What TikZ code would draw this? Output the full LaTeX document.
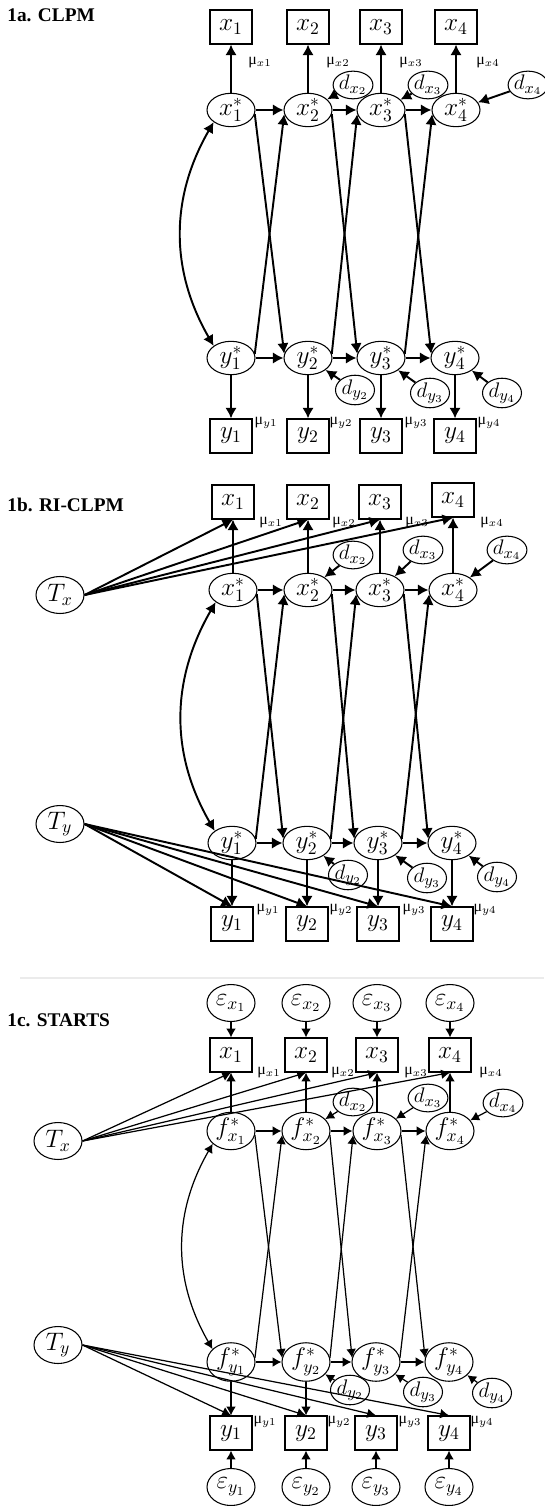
\documentclass[tikz,border=0pt]{standalone}
\usepackage{fontspec}
\setmainfont{Liberation Serif}
\usetikzlibrary{arrows.meta,shapes.geometric}

\begin{document}
\begin{tikzpicture}[x = 0.02cm, y = 0.02cm,
        obs/.style = {draw, line width = 0.7pt, minimum width = 0.84cm, minimum height = 0.68cm, inner sep = 0pt, font = \fontsize{14}{16}\selectfont},
        lat/.style = {draw, ellipse, line width = 0.6pt, minimum width = 0.96cm, minimum height = 0.6cm, inner sep = 0pt, font = \fontsize{14}{16}\selectfont},
        res/.style = {draw, ellipse, line width = 0.6pt, minimum width = 0.78cm, minimum height = 0.54cm, inner sep = 0pt, font = \fontsize{12.5}{14}\selectfont},
        trait/.style = {draw, ellipse, line width = 0.6pt, minimum width = 0.96cm, minimum height = 0.74cm, inner sep = 0pt, font = \fontsize{14}{16}\selectfont},
        meanlbl/.style = {font = \small, inner sep = 0pt},
        paneltitle/.style = {anchor = west, inner sep = 0pt, font = \bfseries\fontsize{11}{13}\selectfont},
        arr/.style = {line width = 1.1pt, -{Latex[length = 6pt, width = 6.5pt]}},
        arrc/.style = {line width = 0.7pt, -{Latex[length = 5pt, width = 5.5pt]}},
        cov/.style = {line width = 1.1pt, {Latex[length = 6pt, width = 6.5pt]}-{Latex[length = 6pt, width = 6.5pt]}},
        covc/.style = {line width = 0.7pt, {Latex[length = 5pt, width = 5.5pt]}-{Latex[length = 5pt, width = 5.5pt]}}
    ]
        \useasboundingbox (0, 0) rectangle (544, -1506);

        % 1a
        \node[paneltitle] (a-title) at (7, -15) {1a. CLPM};
        \node[obs] (a-x1) at (231, -27) {$x_1$};
        \node[obs] (a-x2) at (308, -27) {$x_2$};
        \node[obs] (a-x3) at (381, -27) {$x_3$};
        \node[obs] (a-x4) at (456, -27) {$x_4$};
        \node[meanlbl] (a-mx1) at (260, -63) {μ$_{x1}$};
        \node[meanlbl] (a-mx2) at (338, -63) {μ$_{x2}$};
        \node[meanlbl] (a-mx3) at (411, -63) {μ$_{x3}$};
        \node[meanlbl] (a-mx4) at (488, -63) {μ$_{x4}$};
        \node[lat] (a-xs1) at (231, -110) {$x_1^*$};
        \node[lat] (a-xs2) at (308, -110) {$x_2^*$};
        \node[lat] (a-xs3) at (381, -110) {$x_3^*$};
        \node[lat] (a-xs4) at (456, -110) {$x_4^*$};
        \node[res] (a-dx2) at (353, -85) {$d_{x_2}$};
        \node[res] (a-dx3) at (428, -85) {$d_{x_3}$};
        \node[res] (a-dx4) at (528, -85) {$d_{x_4}$};
        \node[lat] (a-ys1) at (231, -358) {$y_1^*$};
        \node[lat] (a-ys2) at (308, -358) {$y_2^*$};
        \node[lat] (a-ys3) at (381, -358) {$y_3^*$};
        \node[lat] (a-ys4) at (455, -358) {$y_4^*$};
        \node[res] (a-dy2) at (355, -390) {$d_{y_2}$};
        \node[res] (a-dy3) at (430, -393) {$d_{y_3}$};
        \node[res] (a-dy4) at (502, -393) {$d_{y_4}$};
        \node[obs] (a-y1) at (231, -436) {$y_1$};
        \node[obs] (a-y2) at (308, -436) {$y_2$};
        \node[obs] (a-y3) at (381, -436) {$y_3$};
        \node[obs] (a-y4) at (455, -436) {$y_4$};
        \node[meanlbl] (a-my1) at (266, -423) {μ$_{y1}$};
        \node[meanlbl] (a-my2) at (341, -423) {μ$_{y2}$};
        \node[meanlbl] (a-my3) at (416, -423) {μ$_{y3}$};
        \node[meanlbl] (a-my4) at (489, -423) {μ$_{y4}$};

        \draw[arr] (a-xs1) -- (a-x1);
        \draw[arr] (a-xs2) -- (a-x2);
        \draw[arr] (a-xs3) -- (a-x3);
        \draw[arr] (a-xs4) -- (a-x4);
        \draw[arr] (a-xs1) -- (a-xs2);
        \draw[arr] (a-xs2) -- (a-xs3);
        \draw[arr] (a-xs3) -- (a-xs4);
        \draw[arr] (a-ys1) -- (a-ys2);
        \draw[arr] (a-ys2) -- (a-ys3);
        \draw[arr] (a-ys3) -- (a-ys4);
        \draw[arr] (a-xs1.-10) -- (a-ys2.170);
        \draw[arr] (a-ys1.10) -- (a-xs2.-170);
        \draw[arr] (a-xs2.-10) -- (a-ys3.170);
        \draw[arr] (a-ys2.10) -- (a-xs3.-170);
        \draw[arr] (a-xs3.-10) -- (a-ys4.170);
        \draw[arr] (a-ys3.10) -- (a-xs4.-170);
        \draw[arr] (a-dx2) -- (a-xs2);
        \draw[arr] (a-dx3) -- (a-xs3);
        \draw[arr] (a-dx4) -- (a-xs4);
        \draw[arr] (a-dy2) -- (a-ys2);
        \draw[arr] (a-dy3) -- (a-ys3);
        \draw[arr] (a-dy4) -- (a-ys4);
        \draw[arr] (a-ys1) -- (a-y1);
        \draw[arr] (a-ys2) -- (a-y2);
        \draw[arr] (a-ys3) -- (a-y3);
        \draw[arr] (a-ys4) -- (a-y4);
        \draw[cov] (a-xs1.215) to [out = 240, in = 120] (a-ys1.145);

        % 1b
        \node[paneltitle] (b-title) at (7, -505) {1b. RI-CLPM};
        \node[obs] (b-x1) at (233, -502) {$x_1$};
        \node[obs] (b-x2) at (308, -502) {$x_2$};
        \node[obs] (b-x3) at (380, -502) {$x_3$};
        \node[obs] (b-x4) at (453, -500) {$x_4$};
        \node[meanlbl] (b-mx1) at (271, -523) {μ$_{x1}$};
        \node[meanlbl] (b-mx2) at (344, -523) {μ$_{x2}$};
        \node[meanlbl] (b-mx3) at (417, -523) {μ$_{x3}$};
        \node[meanlbl] (b-mx4) at (492, -523) {μ$_{x4}$};
        \node[trait] (b-Tx) at (60, -595) {$T_x$};
        \node[lat] (b-xs1) at (233, -590) {$x_1^*$};
        \node[lat] (b-xs2) at (308, -590) {$x_2^*$};
        \node[lat] (b-xs3) at (380, -590) {$x_3^*$};
        \node[lat] (b-xs4) at (453, -590) {$x_4^*$};
        \node[res] (b-dx2) at (353, -555) {$d_{x_2}$};
        \node[res] (b-dx3) at (423, -550) {$d_{x_3}$};
        \node[res] (b-dx4) at (507, -550) {$d_{x_4}$};
        \node[trait] (b-Ty) at (60, -824) {$T_y$};
        \node[lat] (b-ys1) at (232, -843) {$y_1^*$};
        \node[lat] (b-ys2) at (307, -843) {$y_2^*$};
        \node[lat] (b-ys3) at (378, -843) {$y_3^*$};
        \node[lat] (b-ys4) at (452, -843) {$y_4^*$};
        \node[res] (b-dy2) at (348, -875) {$d_{y_2}$};
        \node[res] (b-dy3) at (427, -878) {$d_{y_3}$};
        \node[res] (b-dy4) at (497, -877) {$d_{y_4}$};
        \node[obs] (b-y1) at (232, -924) {$y_1$};
        \node[obs] (b-y2) at (307, -924) {$y_2$};
        \node[obs] (b-y3) at (378, -924) {$y_3$};
        \node[obs] (b-y4) at (452, -924) {$y_4$};
        \node[meanlbl] (b-my1) at (268, -910) {μ$_{y1}$};
        \node[meanlbl] (b-my2) at (341, -910) {μ$_{y2}$};
        \node[meanlbl] (b-my3) at (414, -910) {μ$_{y3}$};
        \node[meanlbl] (b-my4) at (485, -910) {μ$_{y4}$};

        \draw[arr] (b-Tx.east) -- (b-x1.south);
        \draw[arr] (b-Tx.east) -- (b-x2.south);
        \draw[arr] (b-Tx.east) -- (b-x3.south);
        \draw[arr] (b-Tx.east) -- (b-x4.south);
        \draw[arr] (b-Ty.east) -- (b-y1.north);
        \draw[arr] (b-Ty.east) -- (b-y2.north);
        \draw[arr] (b-Ty.east) -- (b-y3.north);
        \draw[arr] (b-Ty.east) -- (b-y4.north);
        \draw[arr] (b-xs1) -- (b-x1);
        \draw[arr] (b-xs2) -- (b-x2);
        \draw[arr] (b-xs3) -- (b-x3);
        \draw[arr] (b-xs4) -- (b-x4);
        \draw[arr] (b-xs1) -- (b-xs2);
        \draw[arr] (b-xs2) -- (b-xs3);
        \draw[arr] (b-xs3) -- (b-xs4);
        \draw[arr] (b-ys1) -- (b-ys2);
        \draw[arr] (b-ys2) -- (b-ys3);
        \draw[arr] (b-ys3) -- (b-ys4);
        \draw[arr] (b-xs1.-10) -- (b-ys2.170);
        \draw[arr] (b-ys1.10) -- (b-xs2.-170);
        \draw[arr] (b-xs2.-10) -- (b-ys3.170);
        \draw[arr] (b-ys2.10) -- (b-xs3.-170);
        \draw[arr] (b-xs3.-10) -- (b-ys4.170);
        \draw[arr] (b-ys3.10) -- (b-xs4.-170);
        \draw[arr] (b-dx2) -- (b-xs2);
        \draw[arr] (b-dx3) -- (b-xs3);
        \draw[arr] (b-dx4) -- (b-xs4);
        \draw[arr] (b-dy2) -- (b-ys2);
        \draw[arr] (b-dy3) -- (b-ys3);
        \draw[arr] (b-dy4) -- (b-ys4);
        \draw[arr] (b-ys1) -- (b-y1);
        \draw[arr] (b-ys2) -- (b-y2);
        \draw[arr] (b-ys3) -- (b-y3);
        \draw[arr] (b-ys4) -- (b-y4);
        \draw[cov] (b-xs1.215) to [out = 240, in = 120] (b-ys1.145);

        % 1c
        \draw[black!8, line width = 0.6pt] (20, -978) -- (544, -978);
        \node[paneltitle] (c-title) at (7, -1020) {1c. STARTS};
        \node[trait] (c-ex1) at (231, -1003) {$\varepsilon_{x_1}$};
        \node[trait] (c-ex2) at (306, -1003) {$\varepsilon_{x_2}$};
        \node[trait] (c-ex3) at (377, -1003) {$\varepsilon_{x_3}$};
        \node[trait] (c-ex4) at (450, -1003) {$\varepsilon_{x_4}$};
        \node[obs] (c-x1) at (231, -1055) {$x_1$};
        \node[obs] (c-x2) at (306, -1055) {$x_2$};
        \node[obs] (c-x3) at (377, -1055) {$x_3$};
        \node[obs] (c-x4) at (450, -1055) {$x_4$};
        \node[meanlbl] (c-mx1) at (269, -1073) {μ$_{x1}$};
        \node[meanlbl] (c-mx2) at (343, -1073) {μ$_{x2}$};
        \node[meanlbl] (c-mx3) at (416, -1073) {μ$_{x3}$};
        \node[meanlbl] (c-mx4) at (491, -1073) {μ$_{x4}$};
        \node[res] (c-dx2) at (353, -1102) {$d_{x_2}$};
        \node[res] (c-dx3) at (428, -1098) {$d_{x_3}$};
        \node[res] (c-dx4) at (503, -1103) {$d_{x_4}$};
        \node[trait] (c-Tx) at (58, -1141) {$T_x$};
        \node[lat] (c-fx1) at (231, -1131) {$f_{x_1}^*$};
        \node[lat] (c-fx2) at (306, -1131) {$f_{x_2}^*$};
        \node[lat] (c-fx3) at (377, -1131) {$f_{x_3}^*$};
        \node[lat] (c-fx4) at (450, -1131) {$f_{x_4}^*$};
        \node[trait] (c-Ty) at (58, -1345) {$T_y$};
        \node[lat] (c-fy1) at (231, -1362) {$f_{y_1}^*$};
        \node[lat] (c-fy2) at (306, -1362) {$f_{y_2}^*$};
        \node[lat] (c-fy3) at (376, -1362) {$f_{y_3}^*$};
        \node[lat] (c-fy4) at (449, -1362) {$f_{y_4}^*$};
        \node[res] (c-dy2) at (350, -1390) {$d_{y_2}$};
        \node[res] (c-dy3) at (423, -1392) {$d_{y_3}$};
        \node[res] (c-dy4) at (492, -1393) {$d_{y_4}$};
        \node[obs] (c-y1) at (231, -1433) {$y_1$};
        \node[obs] (c-y2) at (306, -1433) {$y_2$};
        \node[obs] (c-y3) at (376, -1433) {$y_3$};
        \node[obs] (c-y4) at (449, -1433) {$y_4$};
        \node[meanlbl] (c-my1) at (265, -1422) {μ$_{y1}$};
        \node[meanlbl] (c-my2) at (339, -1422) {μ$_{y2}$};
        \node[meanlbl] (c-my3) at (410, -1422) {μ$_{y3}$};
        \node[meanlbl] (c-my4) at (482, -1422) {μ$_{y4}$};
        \node[trait] (c-ey1) at (231, -1487) {$\varepsilon_{y_1}$};
        \node[trait] (c-ey2) at (306, -1487) {$\varepsilon_{y_2}$};
        \node[trait] (c-ey3) at (376, -1487) {$\varepsilon_{y_3}$};
        \node[trait] (c-ey4) at (449, -1487) {$\varepsilon_{y_4}$};

        \draw[arrc] (c-ex1) -- (c-x1);
        \draw[arrc] (c-ex2) -- (c-x2);
        \draw[arrc] (c-ex3) -- (c-x3);
        \draw[arrc] (c-ex4) -- (c-x4);
        \draw[arrc] (c-ey1) -- (c-y1);
        \draw[arrc] (c-ey2) -- (c-y2);
        \draw[arrc] (c-ey3) -- (c-y3);
        \draw[arrc] (c-ey4) -- (c-y4);
        \draw[arrc] (c-Tx.east) -- (c-x1.south);
        \draw[arrc] (c-Tx.east) -- (c-x2.south);
        \draw[arrc] (c-Tx.east) -- (c-x3.south);
        \draw[arrc] (c-Tx.east) -- (c-x4.south);
        \draw[arrc] (c-Ty.east) -- (c-y1.north);
        \draw[arrc] (c-Ty.east) -- (c-y2.north);
        \draw[arrc] (c-Ty.east) -- (c-y3.north);
        \draw[arrc] (c-Ty.east) -- (c-y4.north);
        \draw[arrc] (c-fx1) -- (c-x1);
        \draw[arrc] (c-fx2) -- (c-x2);
        \draw[arrc] (c-fx3) -- (c-x3);
        \draw[arrc] (c-fx4) -- (c-x4);
        \draw[arrc] (c-fx1) -- (c-fx2);
        \draw[arrc] (c-fx2) -- (c-fx3);
        \draw[arrc] (c-fx3) -- (c-fx4);
        \draw[arrc] (c-fy1) -- (c-fy2);
        \draw[arrc] (c-fy2) -- (c-fy3);
        \draw[arrc] (c-fy3) -- (c-fy4);
        \draw[arrc] (c-fx1.-10) -- (c-fy2.170);
        \draw[arrc] (c-fy1.10) -- (c-fx2.-170);
        \draw[arrc] (c-fx2.-10) -- (c-fy3.170);
        \draw[arrc] (c-fy2.10) -- (c-fx3.-170);
        \draw[arrc] (c-fx3.-10) -- (c-fy4.170);
        \draw[arrc] (c-fy3.10) -- (c-fx4.-170);
        \draw[arrc] (c-dx2) -- (c-fx2);
        \draw[arrc] (c-dx3) -- (c-fx3);
        \draw[arrc] (c-dx4) -- (c-fx4);
        \draw[arrc] (c-dy2) -- (c-fy2);
        \draw[arrc] (c-dy3) -- (c-fy3);
        \draw[arrc] (c-dy4) -- (c-fy4);
        \draw[arrc] (c-fy1) -- (c-y1);
        \draw[arrc] (c-fy2) -- (c-y2);
        \draw[covc] (c-fx1.215) to [out = 240, in = 120] (c-fy1.145);
    \end{tikzpicture}
\end{document}
